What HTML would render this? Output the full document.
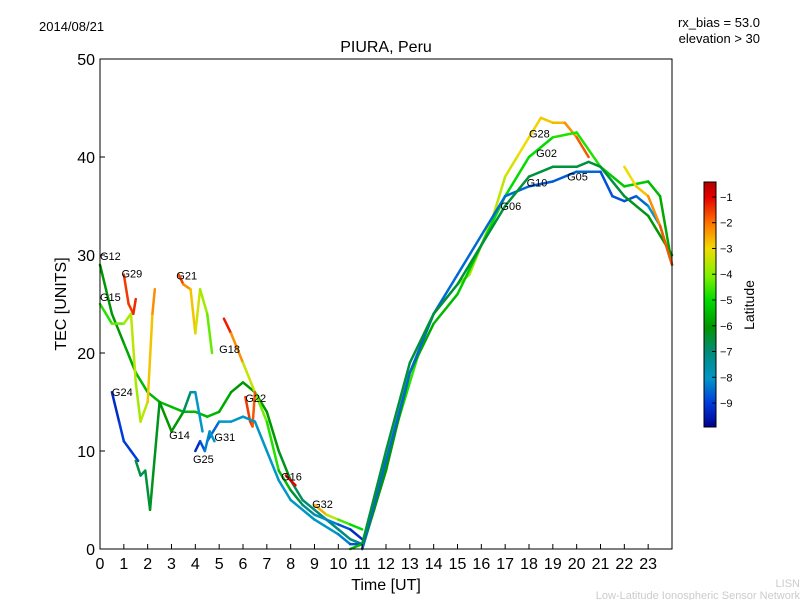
<!DOCTYPE html>
<html><head><meta charset="utf-8"><style>
body{margin:0;background:#fff;font-family:"Liberation Sans",sans-serif}
</style></head><body>
<svg id="chart" width="800" height="600" xmlns="http://www.w3.org/2000/svg" font-family="Liberation Sans, sans-serif">
<rect width="800" height="600" fill="#fff"/>
<text x="39" y="31" font-size="13">2014/08/21</text>
<text x="760" y="27" font-size="13" text-anchor="end">rx_bias = 53.0</text>
<text x="760" y="43" font-size="13" text-anchor="end">elevation &gt; 30</text>
<text x="386" y="52" font-size="16" text-anchor="middle">PIURA, Peru</text>
<text transform="translate(66,304) rotate(-90)" font-size="16" text-anchor="middle">TEC [UNITS]</text>
<text x="386" y="590" font-size="16" text-anchor="middle">Time [UT]</text>
<text x="800" y="587" font-size="11" fill="#ccc" text-anchor="end">LISN</text>
<text x="800" y="599" font-size="11" fill="#ccc" text-anchor="end">Low-Latitude Ionospheric Sensor Network</text>
<g id="plot"></g>
<rect x="100" y="59" width="572" height="490" fill="none" stroke="#000" stroke-width="1"/>
<g id="axes"></g>
<g id="cbar"></g>
</svg>
<script>
const xTicks=[0,1,2,3,4,5,6,7,8,9,10,11,12,13,14,15,16,17,18,19,20,21,22,23];
const yTicks=[0,10,20,30,40,50];
const cbTicks=[-1,-2,-3,-4,-5,-6,-7,-8,-9];
const seriesNames=["G12","G15","G24","G29","G21","G18","G22","G16","G31","G28","G02","G10","G06","G05","G14","G25","G32"];
const seriesTimes=[
[0,0.5,1,1.5,2,2.5,3,3.5,4,4.5,5,5.5,6,6.5,7,7.5,8,8.5,9,9.5,10,10.5,11],
[0,0.5,1,1.3,1.5,1.7,2,2.2,2.3],
[0.5,0.8,1,1.3,1.6],
[1,1.2,1.4,1.5],
[3.3,3.5,3.8,4,4.2,4.5,4.7],
[5.2,5.5,6,6.5,7,7.5,8,8.5,9,9.5,10,10.5,11],
[6.1,6.3,6.4,6.5],
[7.8,8,8.2],
[4.5,5,5.5,6,6.5,7,7.5,8,9,10,10.5,11],
[10.5,11,11.5,12,12.5,13,13.5,14,14.5,15,15.5,16,16.5,17,17.5,18,18.5,19,19.5,20,20.5],
[11,12,13,14,15,16,17,18,19,20,21,22,23,23.5,24],
[11,12,13,14,15,16,17,18,19,20,21,21.5,22,22.5,23,23.5,24],
[11,12,13,14,15,16,17,18,19,20,20.5,21,22,23,24],
[22,22.5,23,23.5,24],
[1.5,1.7,1.9,2.1,2.5,3,3.5,3.8,4,4.3],
[4,4.2,4.4,4.6,4.8],
[9,9.5,10,10.5,11]
];
const seriesTec=[
[29,24,21,18,16,15,14.5,14,14,13.5,14,16,17,16,14,10,7,5,4,3,2,1,0.5],
[25,23,23,24,17,13,15,24,26.5],
[16,13,11,10,9],
[28,25,24,25.5],
[28,27,26.5,22,26.5,24,20],
[23.5,22,19,16,13,8,6,4.5,3.5,3,2.5,2,1],
[15.5,13,12.5,16],
[7.5,7,6.5],
[11,13,13,13.5,13,10,7,5,3,1.5,0.5,0.5],
[0,0.5,4,9,13,17,21,24,25.5,27,28,31,34,38,40,42,44,43.5,43.5,42,40],
[0,8,18,23,26,31,36,40,42,42.5,39,37,37.5,36,29],
[0,9,18,24,28,32,36,37,37.5,38.5,38.5,36,35.5,36,35,33,29],
[0.5,10,19,24,27,31,35,38,39,39,39.5,39,36,34,30],
[39,37,36,33,29],
[9,7.5,8,4,15,12,14,16,16,12],
[10,11,10,12,11],
[4.5,3.5,3,2.5,2]
];
const seriesLat=[
[-6,-6,-6,-5.5,-5.5,-5.5,-5.5,-5.5,-5.5,-5.5,-5.5,-6,-6,-6,-6,-6,-6.5,-7,-7,-7,-7,-7,-7],
[-5,-4.5,-4,-3.5,-3.5,-4,-3,-2.5,-2],
[-9.5,-9,-9,-9,-9],
[-1.5,-1.5,-1.5,-1.2],
[-1.2,-2,-2.5,-3,-3.5,-4,-4.5],
[-1,-1.5,-3,-3.8,-4.5,-5,-6,-7,-7.5,-8,-8.5,-9,-9.5],
[-1.5,-1.5,-1.5,-2],
[-1,-1,-1],
[-9,-8,-8,-8,-8,-8,-8,-8,-8,-8,-8.5,-9],
[-5.5,-5.5,-5,-5,-4.8,-4.8,-4.5,-4.5,-4.5,-4,-4,-3.5,-3.5,-3.5,-3,-3,-2.8,-2.8,-2.5,-2,-1.5],
[-6,-6,-6,-5.5,-5.5,-5,-5,-5,-5,-4.5,-5,-5.5,-5,-6,-5.5],
[-8.5,-8.5,-8.5,-8.5,-8.5,-8.5,-8.5,-8.5,-8.8,-8.5,-8.5,-9,-8.5,-9,-8,-8,-7],
[-6.5,-6.5,-6.5,-6.5,-6.5,-6.5,-6.5,-6.5,-6.5,-6.5,-6.5,-6.5,-6.5,-6,-6],
[-3,-3,-2.5,-2,-1.5],
[-6,-7,-6.5,-6.5,-6,-6,-6,-7.5,-8,-8],
[-9.5,-9,-8.5,-8,-8],
[-2,-3,-4,-5,-5]
];
const labelPos=[[0,29.5],[0,25.3],[0.5,15.6],[0.9,27.7],[3.2,27.5],[5,20],[6.1,15],[7.6,7],[4.8,11],[18,42],[18.3,40],[17.9,37],[16.8,34.6],[19.6,37.6],[2.9,11.2],[3.9,8.8],[8.9,4.2]];
const NS='http://www.w3.org/2000/svg';
const x0=100,x1=672,y0=549,y1=59;
function xs(t){return x0+t*(x1-x0)/24;}
function ys(v){return y0-v*(y0-y1)/50;}
const cbMin=-9.93,cbMax=-0.42,cbTop=182,cbBot=427;
function cy(l){return cbBot-(l-cbMin)*(cbBot-cbTop)/(cbMax-cbMin);}
const cmStops=[[0,0,0,140],[0.1,0,60,220],[0.2,0,150,200],[0.31,0,140,120],[0.41,0,150,0],[0.52,0,220,0],[0.62,130,240,0],[0.73,240,220,0],[0.83,255,120,0],[0.94,230,0,0],[1,180,0,0]];
function jet(l){let t=(l-cbMin)/(cbMax-cbMin);t=Math.max(0,Math.min(1,t));
 for(let i=0;i<cmStops.length-1;i++){const a=cmStops[i],b=cmStops[i+1];
  if(t<=b[0]){const f=(t-a[0])/(b[0]-a[0]);
   return `rgb(${Math.round(a[1]+f*(b[1]-a[1]))},${Math.round(a[2]+f*(b[2]-a[2]))},${Math.round(a[3]+f*(b[3]-a[3]))})`;}}
 return 'rgb(180,0,0)';}
const plot=document.getElementById('plot');
seriesNames.forEach((n,i)=>{
 const g=document.createElementNS(NS,'g');
 
 
 const T=seriesTimes[i],V=seriesTec[i],L=seriesLat[i];
 for(let k=0;k<T.length-1;k++){
  const ln=document.createElementNS(NS,'line');
  
  
  ln.setAttribute('x1',xs(T[k]));ln.setAttribute('y1',ys(V[k]));
  ln.setAttribute('x2',xs(T[k+1]));ln.setAttribute('y2',ys(V[k+1]));
  ln.setAttribute('stroke',jet((L[k]+L[k+1])/2));ln.setAttribute('stroke-width','2.5');ln.setAttribute('stroke-linecap','round');
  g.appendChild(ln);
 }
 plot.appendChild(g);
 const tx=document.createElementNS(NS,'text');
 
 
 tx.setAttribute('x',xs(labelPos[i][0]));tx.setAttribute('y',ys(labelPos[i][1]));
 tx.setAttribute('font-size','11');tx.textContent=n;plot.appendChild(tx);
});
const ax=document.getElementById('axes');
xTicks.forEach(t=>{
 const l=document.createElementNS(NS,'line');
 
 
 l.setAttribute('x1',xs(t));l.setAttribute('x2',xs(t));l.setAttribute('y1',y0);l.setAttribute('y2',y0-5);l.setAttribute('stroke','#000');ax.appendChild(l);
 const tx=document.createElementNS(NS,'text');
 
 
 tx.setAttribute('x',xs(t));tx.setAttribute('y',569);tx.setAttribute('font-size','16');tx.setAttribute('text-anchor','middle');tx.textContent=t;ax.appendChild(tx);
});
yTicks.forEach(v=>{
 const l=document.createElementNS(NS,'line');
 
 
 l.setAttribute('x1',x0);l.setAttribute('x2',x0+5);l.setAttribute('y1',ys(v));l.setAttribute('y2',ys(v));l.setAttribute('stroke','#000');ax.appendChild(l);
 const tx=document.createElementNS(NS,'text');
 
 
 tx.setAttribute('x',95);tx.setAttribute('y',ys(v)+6);tx.setAttribute('font-size','16');tx.setAttribute('text-anchor','end');tx.textContent=v;ax.appendChild(tx);
});
const cb=document.getElementById('cbar');
for(let y=cbTop;y<cbBot;y++){
 const r=document.createElementNS(NS,'rect');
 r.setAttribute('x',704);r.setAttribute('y',y);r.setAttribute('width',12);r.setAttribute('height',1.2);
 r.setAttribute('fill',jet(cbMin+(cbBot-y)*(cbMax-cbMin)/(cbBot-cbTop)));cb.appendChild(r);
}
const fr=document.createElementNS(NS,'rect');


fr.setAttribute('x',704);fr.setAttribute('y',cbTop);fr.setAttribute('width',12);fr.setAttribute('height',cbBot-cbTop);fr.setAttribute('fill','none');fr.setAttribute('stroke','#000');cb.appendChild(fr);
cbTicks.forEach(v=>{
 const l=document.createElementNS(NS,'line');
 
 
 l.setAttribute('x1',712);l.setAttribute('x2',716);l.setAttribute('y1',cy(v));l.setAttribute('y2',cy(v));l.setAttribute('stroke','#000');cb.appendChild(l);
 const tx=document.createElementNS(NS,'text');
 
 
 tx.setAttribute('x',720);tx.setAttribute('y',cy(v)+4);tx.setAttribute('font-size','11');tx.textContent='\u2212'+Math.abs(v);cb.appendChild(tx);
});
const ct=document.createElementNS(NS,'text');


ct.setAttribute('transform','translate(754,305) rotate(-90)');ct.setAttribute('font-size','14');ct.setAttribute('text-anchor','middle');ct.textContent='Latitude';cb.appendChild(ct);
</script>
</body></html>
